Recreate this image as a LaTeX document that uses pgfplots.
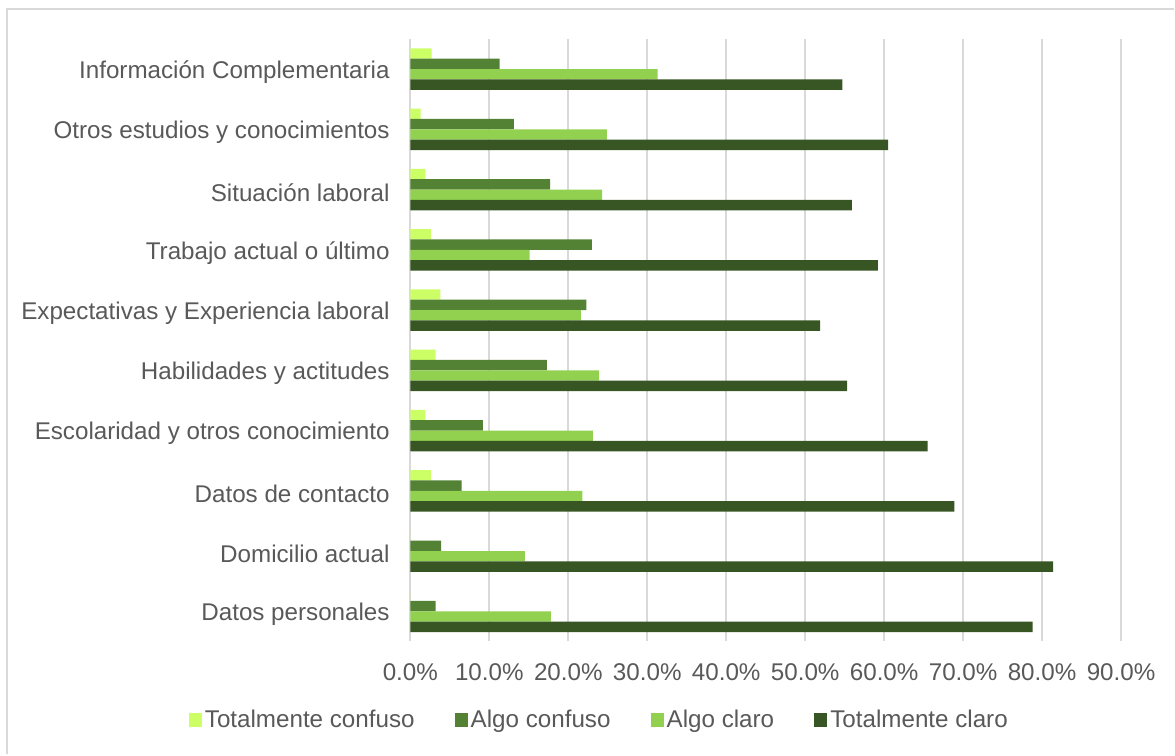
\documentclass[border=0pt]{standalone}
\usepackage{fontspec}
\setmainfont{Liberation Sans}
\usepackage{pgfplots}
\pgfplotsset{compat=1.18}
\definecolor{cTCo}{HTML}{CCFF66}
\definecolor{cAC}{HTML}{548235}
\definecolor{cACl}{HTML}{92D050}
\definecolor{cTCl}{HTML}{375623}
\definecolor{txt}{HTML}{595959}
\definecolor{grd}{HTML}{D9D9D9}
\begin{document}
\begin{tikzpicture}
\begin{axis}[
  scale only axis,
  width=355.65pt, height=301.5pt,
  xmin=0, xmax=90, ymin=-0.5, ymax=9.5,
  xbar=0pt, bar width=5.2pt,
  xtick={0,10,...,90},
  xticklabels={0.0\%,10.0\%,20.0\%,30.0\%,40.0\%,50.0\%,60.0\%,70.0\%,80.0\%,90.0\%},
  ytick={0,...,9},
  yticklabels={Datos personales,Domicilio actual,Datos de contacto,Escolaridad y otros conocimiento,Habilidades y actitudes,Expectativas y Experiencia laboral,Trabajo actual o último,Situación laboral,Otros estudios y conocimientos,Información Complementaria},
  /pgf/number format/assume math mode=true,
  tick label style={font=\fontsize{12.1}{14}\selectfont, text=txt},
  xticklabel style={yshift=-7.5pt},
  yticklabel style={xshift=-2.6pt, yshift=-1.5pt},
  xmajorgrids, ymajorgrids=false,
  major grid style={grd, line width=0.9pt},
  axis line style={draw=none},
  tick style={draw=none},
  legend columns=4,
  legend style={draw=none, at={(0.2665,-0.1302)}, anchor=center,
    font=\fontsize{12.1}{14}\selectfont, text=txt, inner sep=0pt,
    nodes={inner sep=1.5pt},
    /tikz/every even column/.append style={column sep=18.5pt}},
  legend image code/.code={\fill[#1] (0pt,-3.3pt) rectangle (6.6pt,3.3pt);},
]
\addplot[fill=cTCo, draw=none, bar shift=7.8pt] coordinates {
 (0,0) (0,1) (2.6,2) (1.9,3) (3.2,4) (3.8,5) (2.6,6) (1.9,7) (1.3,8) (2.7,9)};
\addplot[fill=cAC, draw=none, bar shift=2.6pt] coordinates {
 (3.2,0) (3.9,1) (6.5,2) (9.2,3) (17.3,4) (22.3,5) (23.0,6) (17.7,7) (13.1,8) (11.3,9)};
\addplot[fill=cACl, draw=none, bar shift=-2.6pt] coordinates {
 (17.8,0) (14.5,1) (21.8,2) (23.1,3) (23.9,4) (21.6,5) (15.1,6) (24.3,7) (24.9,8) (31.3,9)};
\addplot[fill=cTCl, draw=none, bar shift=-7.8pt] coordinates {
 (78.8,0) (81.4,1) (68.9,2) (65.5,3) (55.3,4) (51.9,5) (59.2,6) (55.9,7) (60.5,8) (54.7,9)};
\legend{Totalmente confuso,Algo confuso,Algo claro,Totalmente claro}
\end{axis}
\draw[grd, line width=1pt] (-201.85pt,-56.5pt) -- (-201.85pt,316.5pt) -- (382.15pt,316.5pt);
\path[use as bounding box] (-205.35pt,-56.5pt) rectangle (382.15pt,321pt);
\end{tikzpicture}
\end{document}
